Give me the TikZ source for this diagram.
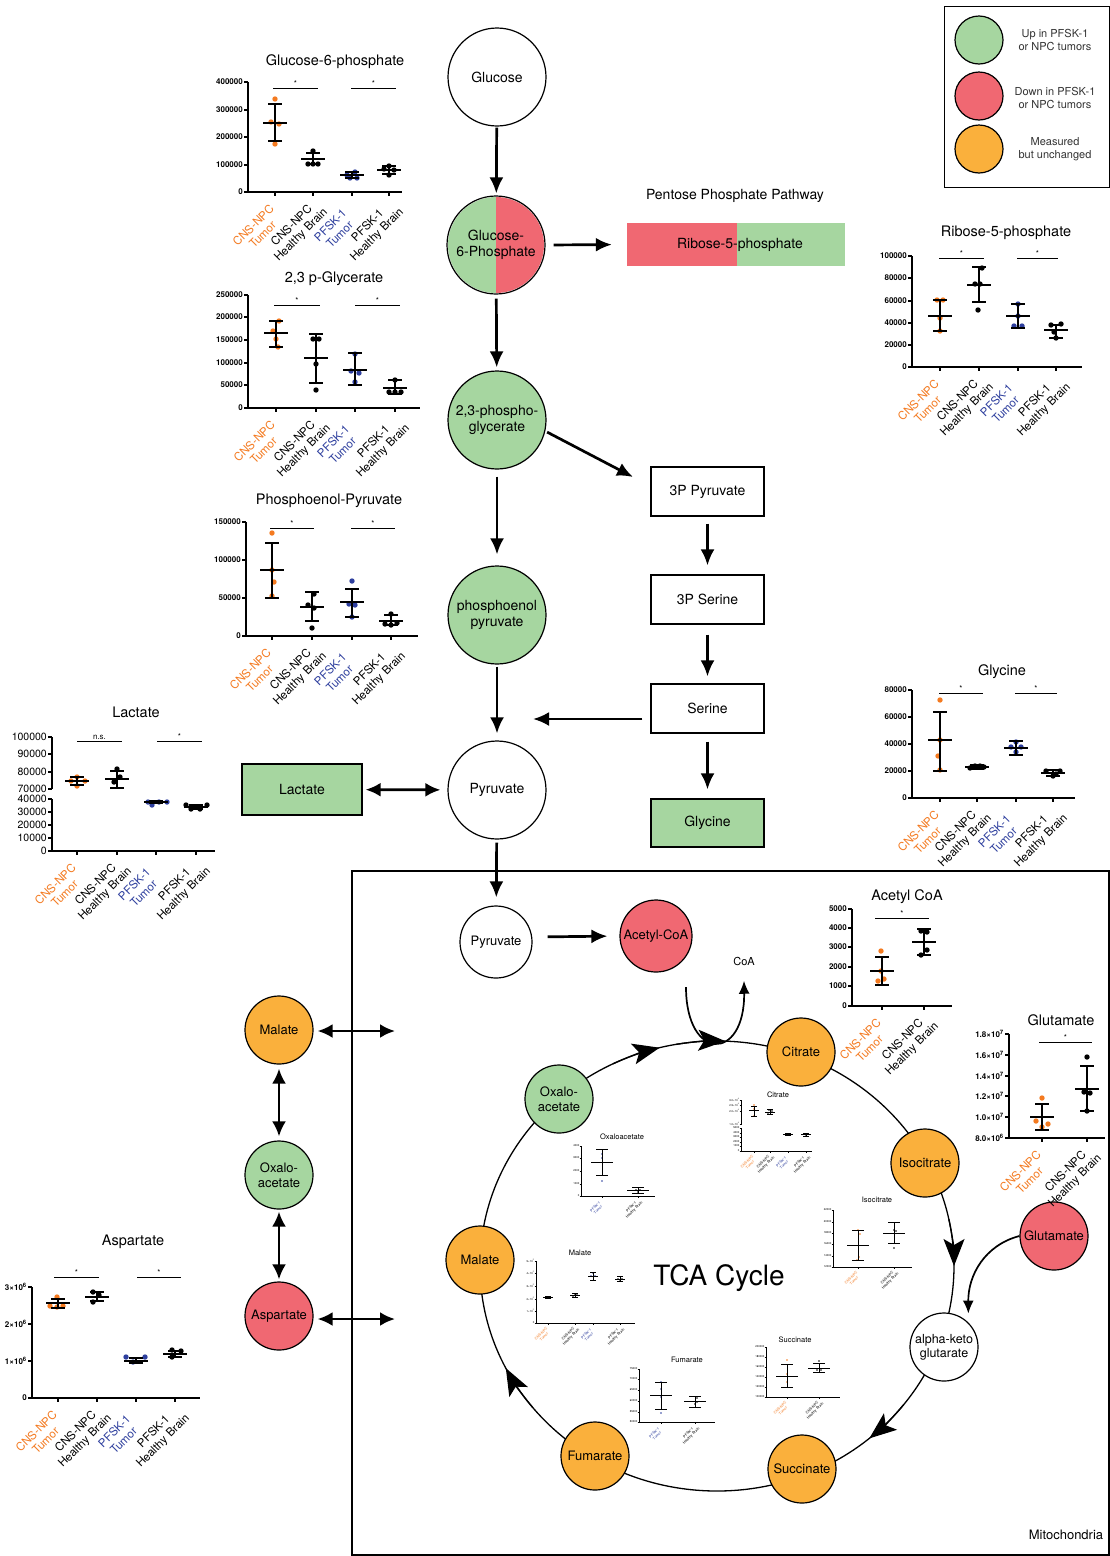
\documentclass[tikz,border=0pt]{standalone}
\usepackage{fontspec}
\setmainfont{TeX Gyre Heros}
\usetikzlibrary{arrows.meta,calc}
\definecolor{upg}{HTML}{A6D6A0}
\definecolor{dnr}{HTML}{F06872}
\definecolor{mor}{HTML}{FAB03C}
\definecolor{cnsc}{HTML}{F47A20}
\definecolor{pfc}{HTML}{2E3F9E}
\newcounter{labn}
\newcommand{\Gmw}{12}\newcommand{\Gcw}{7}\newcommand{\Gpr}{2.7}
\newcommand{\Gtk}{4}\newcommand{\Gxx}{2}\newcommand{\Gxy}{3}
\newcommand{\Yax}[3]{\draw[cax] (#1,#2) -- (#1,#3);}
\newcommand{\Xax}[3]{\draw[cax] (#1,#3) -- (#2,#3);}
\newcommand{\Ytk}[3]{\stepcounter{labn}\draw[cax] (#1-\Gtk,#2) -- (#1,#2); \node[ticklab] (yl\arabic{labn}) at (#1-\Gtk,#2) {#3};}
\newcommand{\Xtk}[4]{\stepcounter{labn}\draw[cax] (#1,#2) -- (#1,#2+\Gtk); \node[xlab,text=#4] (xl\arabic{labn}) at (#1+\Gxx,#2+\Gxy) {#3};}
\newcommand{\Sig}[4]{\stepcounter{labn}\draw[sigline] (#1,#3) -- (#2,#3); \node[sigtxt] (sg\arabic{labn}) at ({(#1+#2)/2},#3-1) {#4};}
\newcommand{\Grp}[6]{%
  \foreach \dx/\yy in {#6} {\fill[#5] ({#1+(\dx)},\yy) circle[radius=\Gpr];}
  \draw[ebar] (#1,#3) -- (#1,#4);
  \draw[ebar] (#1-\Gcw,#3) -- (#1+\Gcw,#3);
  \draw[ebar] (#1-\Gcw,#4) -- (#1+\Gcw,#4);
  \draw[ebar] (#1-\Gmw,#2) -- (#1+\Gmw,#2);}
\newcommand{\FourLab}[5]{% x1 x2 x3 x4 y
  \Xtk{#1}{#5}{CNS-NPC\\Tumor}{cnsc}\Xtk{#2}{#5}{CNS-NPC\\Healthy Brain}{black}%
  \Xtk{#3}{#5}{PFSK-1\\Tumor}{pfc}\Xtk{#4}{#5}{PFSK-1\\Healthy Brain}{black}}
\tikzset{
  met/.style={circle,draw,line width=1.2pt,minimum size=98pt,inner sep=0pt,align=center,font=\fontsize{14}{16}\selectfont},
  smet/.style={circle,draw,line width=1.2pt,minimum size=68pt,inner sep=0pt,align=center,font=\fontsize{13}{14.5}\selectfont},
  lgc/.style={circle,draw,line width=1.2pt,minimum size=48pt},
  lgt/.style={align=center,font=\fontsize{11}{13}\selectfont,text=black!80},
  box/.style={rectangle,draw,line width=1.2pt,minimum width=113pt,minimum height=49pt,font=\fontsize{14}{16}\selectfont},
  arr/.style={line width=2.7pt,-{Latex[length=16pt,width=14pt]}},
  darr/.style={line width=2.7pt,{Latex[length=15pt,width=14pt]}-{Latex[length=15pt,width=14pt]}},
  thinarr/.style={line width=1.7pt,-{Latex[length=13pt,width=11pt]}},
  cyc/.style={line width=1.3pt},
  cycarr/.style={line width=1.3pt,-{Stealth[length=27pt,width=21pt,inset=6pt]}},
  cax/.style={line width=1.1pt},
  ebar/.style={line width=1.4pt},
  sigline/.style={line width=0.8pt},
  sigtxt/.style={font=\fontsize{8}{8}\selectfont,inner sep=0pt,anchor=south},
  ticklab/.style={font=\bfseries\fontsize{8}{8}\selectfont,inner sep=1pt,anchor=east},
  xlab/.style={font=\fontsize{11.5}{13}\selectfont,rotate=45,anchor=north east,align=center,text width=76pt,inner sep=0pt},
  ctitle/.style={font=\fontsize{14.5}{16}\selectfont,inner sep=0pt},
  tiny/.style={cax/.style={line width=0.5pt},ebar/.style={line width=0.6pt},
    sigline/.style={line width=0.4pt},
    ticklab/.style={font=\fontsize{2.7}{2.8}\selectfont,inner sep=0pt,anchor=east},
    xlab/.style={font=\fontsize{3.6}{4.2}\selectfont,rotate=45,anchor=north east,align=center,text width=24pt,inner sep=0pt},
    ctitle/.style={font=\fontsize{7.5}{8}\selectfont,inner sep=0pt}},
}
\begin{document}
\begin{tikzpicture}[x=1pt,y=-1pt]
\useasboundingbox (0,0) rectangle (1110,1556);
\fill[white] (0,0) rectangle (1110,1556);

% ---------- Mitochondria and TCA cycle ----------
\draw[line width=1.2pt] (352,1555) -- (352,871) -- (1109,871) -- (1109,1555) -- cycle;
\node[font=\fontsize{13}{15}\selectfont] (mito) at (1066,1535) {Mitochondria};
\coordinate (tca) at (717,1266);
\draw[cyc] (tca) ellipse [x radius=237, y radius=225];
\foreach \t in {-104,-88,0,50,153}
  \draw[cycarr] ($(tca)+(\t-12:237 and 225)$) arc[start angle=\t-12, end angle=\t, x radius=237, y radius=225];
\node[font=\fontsize{28}{30}\selectfont] (tcalab) at (719,1278) {TCA Cycle};

% ---------- Legend ----------
\node[draw,line width=1pt,minimum width=165pt,minimum height=181pt,inner sep=0pt] (legend) at (1026.5,96.5) {};
\node[lgc,fill=upg] (lg1) at (979,40) {};
\node[lgc,fill=dnr] (lg2) at (979,96) {};
\node[lgc,fill=mor] (lg3) at (979,149) {};
\node[lgt] (lt1) at (1055,40) {Up in PFSK-1\\or NPC tumors};
\node[lgt] (lt2) at (1055,98) {Down in PFSK-1\\or NPC tumors};
\node[lgt] (lt3) at (1055,149) {Measured\\but unchanged};

% ---------- Main pathway ----------
\node[met,fill=white] (glc) at (497,77) {Glucose};
\begin{scope}
  \clip (440,190) rectangle (496,300);
  \fill[upg] (496,245) circle[radius=48];
\end{scope}
\begin{scope}
  \clip (496,190) rectangle (552,300);
  \fill[dnr] (496,245) circle[radius=48];
\end{scope}
\node[met] (g6p) at (496,245) {Glucose-\\6-Phosphate};
\node[met,fill=upg] (pg23) at (497,420) {2,3-phospho-\\glycerate};
\node[met,fill=upg] (pep) at (497,615) {phosphoenol\\pyruvate};
\node[met,fill=white] (pyr) at (497,790) {Pyruvate};

\node[font=\fontsize{14}{16}\selectfont] (ppp) at (735,196) {Pentose Phosphate Pathway};
\fill[dnr] (627,223) rectangle (737,266);
\fill[upg] (737,223) rectangle (845,266);
\node[minimum width=218pt,minimum height=43pt,inner sep=0pt,font=\fontsize{14}{16}\selectfont] (r5p) at (740,244.5) {Ribose-5-phosphate};

\node[box] (p3pyr) at (707.5,491.5) {3P Pyruvate};
\node[box] (p3ser) at (707.5,599.5) {3P Serine};
\node[box] (ser) at (707.5,708.5) {Serine};
\node[box,fill=upg,minimum height=48pt] (gly) at (707.5,823) {Glycine};
\node[box,fill=upg,minimum width=120pt,minimum height=51pt] (lac) at (302,789.5) {Lactate};

\coordinate (c23end) at (633,477);
\coordinate (serpy) at (533,719);
\draw[arr,shorten <=1pt,shorten >=2pt] (glc) -- (g6p);
\draw[arr,shorten <=4pt,shorten >=3pt] (g6p) -- (pg23);
\draw[arr,shorten <=7pt,shorten >=11pt] (pg23) -- (pep);
\draw[arr,shorten <=2pt,shorten >=7pt] (pep) -- (pyr);
\draw[arr,shorten <=8pt,shorten >=19pt] (g6p.east) -- (r5p.west);
\draw[arr,shorten <=2pt] (pg23.-13) -- (c23end);
\draw[arr,shorten <=7pt,shorten >=9pt] (p3pyr) -- (p3ser);
\draw[arr,shorten <=10pt,shorten >=7pt] (p3ser) -- (ser);
\draw[arr,shorten <=8pt] ([yshift=-10.5pt]ser.west) -- (serpy);
\draw[arr,shorten <=8pt,shorten >=9pt] (ser) -- (gly);
\draw[darr,shorten <=3pt,shorten >=7pt] (lac) -- (pyr);

% ---------- Mitochondrial nodes ----------
\node[smet,fill=white,minimum size=72pt] (ipyr) at (496,942) {Pyruvate};
\node[smet,fill=dnr,minimum size=72pt] (acoa) at (656,936) {Acetyl-CoA};
\node[smet,fill=mor] (cit) at (801,1052) {Citrate};
\node[smet,fill=mor] (icit) at (925,1163) {Isocitrate};
\node[smet,fill=dnr] (glu) at (1054,1236) {Glutamate};
\node[smet,fill=white,font=\fontsize{12.5}{14}\selectfont] (akg) at (944,1347) {alpha-keto\\glutarate};
\node[smet,fill=mor] (suc) at (802,1469) {Succinate};
\node[smet,fill=mor] (fum) at (595,1456) {Fumarate};
\node[smet,fill=mor] (mal) at (480,1260) {Malate};
\node[smet,fill=upg] (oxa) at (559,1099) {Oxalo-\\acetate};
\node[smet,fill=mor] (lmal) at (279,1030) {Malate};
\node[smet,fill=upg] (loxa) at (279,1175) {Oxalo-\\acetate};
\node[smet,fill=dnr] (asp) at (279,1316) {Aspartate};
\node[font=\fontsize{11}{12}\selectfont] (coa) at (744,961) {CoA};

\coordinate (coaIn) at (686,987);
\coordinate (lmalR) at (395,1031);
\coordinate (aspR) at (395,1319);
\draw[arr,shorten <=3pt,shorten >=8pt] (pyr) -- (ipyr);
\draw[arr,shorten <=15pt,shorten >=12pt] ([yshift=5pt]ipyr.east) -- (acoa.west);
\draw[thinarr] (coaIn) .. controls (686,1062) and (745,1062) .. ([yshift=-12pt]coa.south);
\draw[thinarr,shorten >=9pt] (glu.west) .. controls (985,1245) and (968,1275) .. (akg.45);
\draw[darr,shorten <=4pt] ([yshift=-1pt]lmal.east) -- (lmalR);
\draw[darr,shorten <=4pt,shorten >=4pt] (lmal) -- (loxa);
\draw[darr,shorten <=2pt,shorten >=2pt] (loxa) -- (asp);
\draw[darr,shorten <=4pt] ([yshift=-3pt]asp.east) -- (aspR);

% ---------- Chart: Glucose-6-phosphate ----------
\node[ctitle] (tg6p) at (335,62) {Glucose-6-phosphate};
\Yax{248}{192}{82}\Xax{248}{402}{192}
\Ytk{248}{82}{400000}\Ytk{248}{110}{300000}\Ytk{248}{137}{200000}\Ytk{248}{165}{100000}\Ytk{248}{192}{0}
\Sig{273}{318}{88}{*}\Sig{351}{396}{88}{*}
\Grp{275}{123}{141}{104}{cnsc}{0/99,-4/122,4/124,0/144}
\Grp{313}{159}{164}{153}{black}{0/151,-5/164,0/164,5/164}
\Grp{352}{175}{178}{172}{pfc}{-5/175,3/172,-2/178,5/178}
\Grp{389}{170}{174}{166}{black}{0/166,-5/169,5/170,0/175}
\FourLab{275}{313}{352}{389}{192}

% ---------- Chart: 2,3 p-Glycerate ----------
\node[ctitle] (tpg) at (334,279) {2,3 p-Glycerate};
\Yax{248}{408}{295}\Xax{248}{420}{408}
\Ytk{248}{295}{250000}\Ytk{248}{317}{200000}\Ytk{248}{340}{150000}\Ytk{248}{363}{100000}\Ytk{248}{385}{50000}\Ytk{248}{408}{0}
\Sig{274}{320}{305}{*}\Sig{355}{400}{305}{*}
\Grp{276}{333}{347}{321}{cnsc}{3/321,-3/331,0/339,2/347}
\Grp{316}{358}{383}{334}{black}{-3/339,3/339,0/364,0/390}
\Grp{355}{370}{385}{353}{pfc}{0/354,-4/371,4/373,0/382}
\Grp{395}{388}{394}{380}{black}{0/380,-6/392,0/392,6/392}
\FourLab{276}{316}{355}{395}{408}

% ---------- Chart: Phosphoenol-Pyruvate ----------
\node[ctitle] (tpep) at (329,501) {Phosphoenol-Pyruvate};
\Yax{246}{636}{522}\Xax{246}{418}{636}
\Ytk{246}{522}{150000}\Ytk{246}{560}{100000}\Ytk{246}{598}{50000}\Ytk{246}{636}{0}
\Sig{270}{314}{528}{*}\Sig{351}{395}{528}{*}
\Grp{272}{570}{598}{543}{cnsc}{0/533,0/570,2/582,0/596}
\Grp{312}{607}{621}{592}{black}{2/594,-4/605,2/608,0/628}
\Grp{352}{602}{617}{589}{pfc}{0/581,-3/604,3/605,0/617}
\Grp{391}{621}{625}{615}{black}{0/614,-6/624,0/625,6/623}
\FourLab{272}{312}{352}{391}{636}

% ---------- Chart: Lactate ----------
\node[ctitle] (tlac) at (136,712) {Lactate};
\begin{scope}[ticklab/.style={font=\fontsize{10.5}{11}\selectfont,inner sep=1pt,anchor=east}]
\draw[cax] (52,737) -- (52,789); \draw[cax] (52,799) -- (52,851);
\Xax{52}{215}{851}
\Ytk{52}{737}{100000}\Ytk{52}{754}{90000}\Ytk{52}{772}{80000}\Ytk{52}{789}{70000}
\Ytk{52}{799}{40000}\Ytk{52}{812}{30000}\Ytk{52}{825}{20000}\Ytk{52}{838}{10000}\Ytk{52}{851}{0}
\end{scope}
\Sig{77}{122}{741}{n.s.}\Sig{157}{202}{741}{*}
\Grp{77}{781}{785}{777}{cnsc}{-6/781,0/777,8/781,0/786}
\Grp{117}{779}{788}{771}{black}{0/769,3/777,-3/782}
\Grp{156}{802}{803}{801}{pfc}{-8/802,-4/805,3/802,11/802}
\Grp{196}{807}{809}{805}{black}{-10/805,-5/809,4/809,11/805}
\FourLab{77}{117}{156}{196}{851}

% ---------- Chart: Ribose-5-phosphate ----------
\node[ctitle] (trib) at (1006,233) {Ribose-5-phosphate};
\Yax{912}{367}{256}\Xax{912}{1082}{367}
\Ytk{912}{256}{100000}\Ytk{912}{278}{80000}\Ytk{912}{301}{60000}\Ytk{912}{323}{40000}\Ytk{912}{345}{20000}\Ytk{912}{367}{0}
\Sig{939}{984}{258}{*}\Sig{1017}{1058}{258}{*}
\Grp{940}{316}{331}{300}{cnsc}{-3/300,3/300,0/318,0/331}
\Grp{979}{285}{302}{267}{black}{3/268,-4/284,1/284,-1/310}
\Grp{1018}{316}{328}{304}{pfc}{0/304,-4/326,4/326,0/316}
\Grp{1056}{330}{338}{325}{black}{-5/325,5/324,0/338,-2/332}
\FourLab{940}{979}{1018}{1056}{367}

% ---------- Chart: Glycine ----------
\node[ctitle] (tgly) at (1002,672) {Glycine};
\Yax{912}{798}{690}\Xax{912}{1075}{798}
\Ytk{912}{690}{80000}\Ytk{912}{717}{60000}\Ytk{912}{744}{40000}\Ytk{912}{771}{20000}\Ytk{912}{798}{0}
\Sig{939}{983}{693}{*}\Sig{1015}{1057}{693}{*}
\Grp{940}{740}{771}{712}{cnsc}{0/700,0/740,-2/756,0/770}
\Grp{977}{767}{769}{765}{black}{-7/768,-2/766,3/766,7/767}
\Grp{1016}{748}{755}{741}{pfc}{-5/747,0/742,5/747,0/752}
\Grp{1053}{773}{776}{770}{black}{-7/771,0/776,7/771,3/774}
\FourLab{940}{977}{1016}{1053}{798}

% ---------- Chart: Acetyl CoA ----------
\node[ctitle] (tacoa) at (907,897) {Acetyl CoA};
\Yax{852}{1006}{909}\Xax{852}{952}{1006}
\Ytk{852}{909}{5000}\Ytk{852}{928}{4000}\Ytk{852}{947}{3000}\Ytk{852}{967}{2000}\Ytk{852}{986}{1000}\Ytk{852}{1006}{0}
\Sig{875}{929}{918}{*}
\Grp{882}{971}{985}{957}{cnsc}{-1/951,-1/971,-4/981,2/979}
\Grp{924}{942}{955}{929}{black}{-3/931,3/932,3/950,-3/955}
\Xtk{882}{1006}{CNS-NPC\\Tumor}{cnsc}\Xtk{924}{1006}{CNS-NPC\\Healthy Brain}{black}

% ---------- Chart: Glutamate ----------
\node[ctitle] (tglu) at (1061,1020) {Glutamate};
\Yax{1009}{1138}{1034}\Xax{1009}{1105}{1138}
\Ytk{1009}{1034}{1.8×10\textsuperscript{7}}\Ytk{1009}{1055}{1.6×10\textsuperscript{7}}\Ytk{1009}{1076}{1.4×10\textsuperscript{7}}
\Ytk{1009}{1096}{1.2×10\textsuperscript{7}}\Ytk{1009}{1117}{1.0×10\textsuperscript{7}}\Ytk{1009}{1138}{8.0×10\textsuperscript{6}}
\Sig{1039}{1092}{1042}{*}
\Grp{1042}{1117}{1130}{1104}{cnsc}{0/1098,-6/1121,6/1124,0/1127}
\Grp{1087}{1089}{1111}{1066}{black}{0/1057,-3/1092,3/1093,0/1111}
\Xtk{1042}{1138}{CNS-NPC\\Tumor}{cnsc}\Xtk{1087}{1138}{CNS-NPC\\Healthy Brain}{black}

% ---------- Chart: Aspartate ----------
\node[ctitle] (tasp) at (133,1242) {Aspartate};
\Yax{32}{1398}{1287}\Xax{32}{200}{1398}
\Ytk{32}{1287}{3×10\textsuperscript{6}}\Ytk{32}{1324}{2×10\textsuperscript{6}}\Ytk{32}{1361}{1×10\textsuperscript{6}}\Ytk{32}{1398}{0}
\Sig{54}{99}{1277}{*}\Sig{137}{181}{1277}{*}
\Grp{58}{1303}{1308}{1299}{cnsc}{-1/1297,-8/1306,-1/1307,5/1306}
\Grp{97}{1297}{1301}{1292}{black}{-4/1292,2/1295,-4/1302}
\Grp{136}{1361}{1363}{1358}{pfc}{-10/1357,-3/1362,9/1357}
\Grp{175}{1354}{1357}{1351}{black}{-3/1350,6/1351,-3/1357}
\FourLab{58}{97}{136}{175}{1398}

% ---------- Tiny charts inside the TCA cycle ----------
\begin{scope}[tiny]
\renewcommand{\Gmw}{5}\renewcommand{\Gcw}{3}\renewcommand{\Gpr}{0.9}
\renewcommand{\Gtk}{1.5}\renewcommand{\Gxx}{0.6}\renewcommand{\Gxy}{1}
% Citrate
\node[ctitle] (tcit) at (778,1095) {Citrate};
\draw[cax] (741,1100) -- (741,1125); \draw[cax] (741,1128) -- (741,1151);
\Xax{741}{812}{1151}
\Ytk{741}{1100}{3.0×10\textsuperscript{4}}\Ytk{741}{1105}{2.5×10\textsuperscript{4}}\Ytk{741}{1111}{2.0×10\textsuperscript{4}}\Ytk{741}{1124}{1.0×10\textsuperscript{4}}
\Ytk{741}{1128}{5000}\Ytk{741}{1133}{4000}\Ytk{741}{1137}{3000}\Ytk{741}{1142}{2000}\Ytk{741}{1146}{1000}\Ytk{741}{1151}{0}
\Grp{754}{1110}{1116}{1106}{cnsc}{0/1105,0/1109,0/1116}
\Grp{770}{1112}{1114}{1109}{black}{-1/1110,2/1111,-2/1114}
\Grp{788}{1134}{1135}{1133}{pfc}{-2/1134,2/1134,0/1135}
\Grp{806}{1134}{1136}{1133}{black}{-2/1134,2/1134,0/1135}
\FourLab{754}{770}{788}{806}{1151}
% Malate
\node[ctitle] (tmal) at (580,1253) {Malate};
\Yax{536}{1323}{1261}\Xax{536}{635}{1323}
\Ytk{536}{1261}{5×10\textsuperscript{5}}\Ytk{536}{1273}{4×10\textsuperscript{5}}\Ytk{536}{1286}{3×10\textsuperscript{5}}
\Ytk{536}{1299}{2×10\textsuperscript{5}}\Ytk{536}{1311}{1×10\textsuperscript{5}}\Ytk{536}{1323}{0}
\Grp{548}{1297}{1298}{1296}{cnsc}{-2/1297,2/1297,0/1298}
\Grp{575}{1295}{1297}{1293}{black}{-2/1296,2/1295,0/1294}
\Grp{593}{1276}{1280}{1272}{pfc}{-2/1276,2/1276,0/1273}
\Grp{620}{1279}{1281}{1276}{black}{-2/1279,2/1279,0/1281}
\FourLab{548}{575}{593}{620}{1323}
\renewcommand{\Gmw}{11}\renewcommand{\Gcw}{6}
% Oxaloacetate
\node[ctitle] (toxa) at (622,1137) {Oxaloacetate};
\Yax{581}{1196}{1146}\Xax{581}{655}{1196}
\Ytk{581}{1146}{4000}\Ytk{581}{1158}{3000}\Ytk{581}{1171}{2000}\Ytk{581}{1184}{1000}\Ytk{581}{1196}{0}
\Grp{602}{1162}{1175}{1149}{pfc}{0/1154,0/1158,0/1181}
\Grp{638}{1190}{1193}{1187}{black}{-2/1190,2/1190,0/1192}
\Xtk{602}{1196}{PFSK-1\\Tumor}{pfc}\Xtk{638}{1196}{PFSK-1\\Healthy Brain}{black}
% Isocitrate
\node[ctitle] (ticit) at (877,1200) {Isocitrate};
\Yax{833}{1267}{1210}\Xax{833}{912}{1267}
\Ytk{833}{1210}{22000}\Ytk{833}{1222}{20000}\Ytk{833}{1233}{18000}\Ytk{833}{1244}{16000}\Ytk{833}{1256}{14000}\Ytk{833}{1267}{12000}
\Grp{858}{1245}{1260}{1230}{cnsc}{0/1230,2/1234,1/1257,-1/1260}
\Grp{894}{1233}{1243}{1222}{black}{0/1230,2/1231,0/1248}
\Xtk{858}{1267}{CNS-NPC\\Tumor}{cnsc}\Xtk{894}{1267}{CNS-NPC\\Healthy Brain}{black}
% Fumarate
\node[ctitle] (tfum) at (687,1360) {Fumarate};
\Yax{639}{1422}{1369}\Xax{639}{715}{1422}
\Ytk{639}{1369}{75000}\Ytk{639}{1379}{70000}\Ytk{639}{1390}{65000}\Ytk{639}{1401}{60000}\Ytk{639}{1412}{55000}\Ytk{639}{1422}{50000}
\Grp{661}{1395}{1409}{1382}{pfc}{0/1382,0/1389,0/1397,0/1413}
\Grp{695}{1401}{1407}{1396}{black}{2/1398,2/1402,0/1404}
\Xtk{661}{1422}{PFSK-1\\Tumor}{pfc}\Xtk{695}{1422}{PFSK-1\\Healthy Brain}{black}
% Succinate
\node[ctitle] (tsuc) at (795,1340) {Succinate};
\Yax{766}{1397}{1347}\Xax{766}{840}{1397}
\Ytk{766}{1347}{200000}\Ytk{766}{1357}{180000}\Ytk{766}{1367}{160000}\Ytk{766}{1377}{140000}\Ytk{766}{1387}{120000}\Ytk{766}{1397}{100000}
\Grp{787}{1376}{1387}{1364}{cnsc}{0/1360,0/1374,0/1382}
\Grp{819}{1368}{1372}{1363}{black}{0/1361,-2/1370,2/1370}
\Xtk{787}{1397}{CNS-NPC\\Tumor}{cnsc}\Xtk{819}{1397}{CNS-NPC\\Healthy Brain}{black}
\end{scope}
\end{tikzpicture}
\end{document}
